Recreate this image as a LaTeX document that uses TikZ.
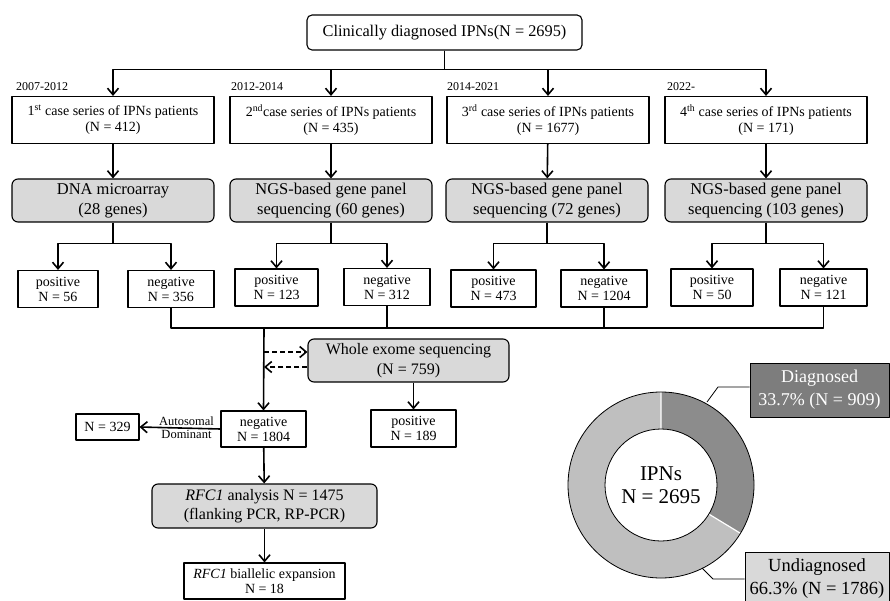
\documentclass[tikz,border=0pt]{standalone}
\usepackage{fontspec}
\setmainfont{Liberation Serif}
\usetikzlibrary{arrows.meta}
\definecolor{boxgray}{RGB}{217,217,217}
\definecolor{diaggray}{RGB}{140,140,140}
\definecolor{labgray}{RGB}{125,125,125}
\definecolor{undiaggray}{RGB}{191,191,191}
\newcommand{\fs}[2]{\fontsize{#1}{#2}\selectfont}

\begin{document}
\begin{tikzpicture}[line join=round,>={Straight Barb[length=6.5pt,width=11pt]},x=1pt,y=-1pt,
	box/.style={draw,line width=1.1pt,inner sep=0pt,align=center},
	serbox/.style={box,minimum width=202,minimum height=47,font=\fs{14}{16}},
	graybox/.style={box,fill=boxgray,rounded corners=6pt,font=\fs{16.5}{20}},
	resbox/.style={box,minimum height=37,font=\fs{14}{15}},
	yearlbl/.style={anchor=west,inner sep=0pt,font=\fs{12}{14}},
	conn/.style={line width=1.6pt}]
		\useasboundingbox (0,0) rectangle (890,601);
		\node[box,rounded corners=5pt,minimum width=275,minimum height=35,font=\fs{16.3}{19}] (top) at (444.5,32.5) {Clinically diagnosed IPNs(N = 2695)};
		\node[serbox] (s1) at (113,120) {1\textsuperscript{st} case series of IPNs patients\\(N = 412)};
		\node[serbox] (s2) at (331,120) {2\textsuperscript{nd}case series of IPNs patients\\(N = 435)};
		\node[serbox] (s3) at (548,120) {3\textsuperscript{rd} case series of IPNs patients\\(N = 1677)};
		\node[serbox] (s4) at (766,120) {4\textsuperscript{th} case series of IPNs patients\\(N = 171)};
		\node[yearlbl] (y1) at (16,87) {2007-2012};
		\node[yearlbl] (y2) at (231,87) {2012-2014};
		\node[yearlbl] (y3) at (447,87) {2014-2021};
		\node[yearlbl] (y4) at (667,87) {2022-};
		\node[graybox,minimum width=202,minimum height=43] (g1) at (113,200.5) {DNA microarray\\(28 genes)};
		\node[graybox,minimum width=202,minimum height=43] (g2) at (331,200.5) {NGS-based gene panel\\sequencing (60 genes)};
		\node[graybox,minimum width=202,minimum height=43] (g3) at (547,200.5) {NGS-based gene panel\\sequencing (72 genes)};
		\node[graybox,minimum width=202,minimum height=43] (g4) at (766,200.5) {NGS-based gene panel\\sequencing (103 genes)};
		\node[resbox,minimum width=80] (p1) at (58,289) {positive\\N = 56};
		\node[resbox,minimum width=86] (n1) at (171,289) {negative\\N = 356};
		\node[resbox,minimum width=83] (p2) at (276.5,287.5) {positive\\N = 123};
		\node[resbox,minimum width=86] (n2) at (387,287) {negative\\N = 312};
		\node[resbox,minimum width=85] (p3) at (493.5,288.5) {positive\\N = 473};
		\node[resbox,minimum width=86] (n3) at (604,288.5) {negative\\N = 1204};
		\node[resbox,minimum width=82] (p4) at (712,287.5) {positive\\N = 50};
		\node[resbox,minimum width=87] (n4) at (823.5,287.5) {negative\\N = 121};
		\node[graybox,minimum width=201,minimum height=43,font=\fs{16}{20}] (wes) at (408.5,360.5) {Whole exome sequencing\\(N = 759)};
		\node[resbox,minimum width=85] (wpos) at (413.5,428.5) {positive\\N = 189};
		\node[resbox,minimum width=85,minimum height=36] (neg) at (263.5,429) {negative\\N = 1804};
		\node[resbox,minimum width=63,minimum height=26] (ad) at (107.5,427) {N = 329};
		\node[graybox,minimum width=225,minimum height=44,font=\fs{16}{19}] (rfc) at (264.5,506) {\textit{RFC1} analysis N = 1475\\(flanking PCR, RP-PCR)};
		\node[resbox,minimum width=161,minimum height=36] (bial) at (264.5,581) {\textit{RFC1} biallelic expansion\\N = 18};
		\coordinate (bus) at (264,328);
		\coordinate (wesin) at ([yshift=8.5pt]wes.west);
		\coordinate (wesout) at ([yshift=-6.5pt]wes.west);
		\draw[conn,->] (top.south) -- ++(0,19) -| (s1.north);
		\draw[conn,->] (top.south) -- ++(0,19) -| (s2.north);
		\draw[conn,->] (top.south) -- ++(0,19) -| (s3.north);
		\draw[conn,->] (top.south) -- ++(0,19) -| (s4.north);
		\draw[conn,->] (s1) -- (g1);
		\draw[conn,->] (s2) -- (g2);
		\draw[conn,->] (s3) -- (g3);
		\draw[conn,->] (s4) -- (g4);
		\draw[conn,->] (g1.south) -- ++(0,21) -| (p1.north);
		\draw[conn,->] (g1.south) -- ++(0,21) -| (n1.north);
		\draw[conn,->] (g2.south) -- ++(0,21) -| (p2.north);
		\draw[conn,->] (g2.south) -- ++(0,21) -| (n2.north);
		\draw[conn,->] (g3.south) -- ++(0,21) -| (p3.north);
		\draw[conn,->] (g3.south) -- ++(0,21) -| (n3.north);
		\draw[conn,->] (g4.south) -- ++(0,21) -| (p4.north);
		\draw[conn,->] (g4.south) -- ++(0,21) -| (n4.north);
		\draw[conn] (n1.south) |- (bus) -| (n4.south);
		\draw[conn] (n2.south) -- (n2.south |- bus);
		\draw[conn] (n3.south) -- (n3.south |- bus);
		\draw[conn,->] (bus) -- (neg.north);
		\draw[conn,->,dash pattern=on 5pt off 3pt] (bus |- wesin) -- (wesin);
		\draw[conn,->,dash pattern=on 5pt off 3pt] (wesout) -- (bus |- wesout);
		\draw[conn,->] (wpos.north |- wes.south) -- (wpos.north);
		\draw[conn,->] (neg.west) -- (ad.east) node[pos=0.42,above,inner sep=1.5pt,font=\fs{12.5}{14}] (adup) {Autosomal} node[pos=0.42,below,inner sep=1.5pt,font=\fs{12.5}{14}] (adlow) {Dominant};
		\draw[conn,->] (neg) -- (rfc);
		\draw[conn,->] (rfc) -- (bial);
		\coordinate (ctr) at (661,485);
		\begin{scope}[shift={(ctr)},y=1pt]
		\fill[diaggray] (90:93) arc (90:-31.3:93) -- (-31.3:56) arc (-31.3:90:56) -- cycle;
		\fill[undiaggray] (-31.3:93) arc (-31.3:-270:93) -- (-270:56) arc (-270:-31.3:56) -- cycle;
		\draw[white,line width=1.2pt] (90:56) -- (90:93) (-31.3:56) -- (-31.3:93);
		\draw[line width=0.8pt] (0,0) circle (93) (0,0) circle (56);
		\end{scope}
		\node[align=center,font=\fs{21}{23}] (ipn) at (ctr) {IPNs\\N = 2695};
		\node[draw,line width=0.8pt,fill=labgray,text=white,align=center,minimum width=139,minimum height=54,inner sep=0pt,font=\fs{18}{23}] (dlab) at (819.5,390) {Diagnosed\\33.7\% (N = 909)};
		\node[draw,line width=0.8pt,fill=boxgray,align=center,minimum width=144,minimum height=54,inner sep=0pt,font=\fs{18.5}{23}] (ulab) at (817,579) {Undiagnosed\\66.3\% (N = 1786)};
		\coordinate (dtip) at (707,402);
		\coordinate (utip) at (702,568);
		\draw[line width=0.8pt] (dtip) -- (718,387) -- (dlab.west |- 0,387);
		\draw[line width=0.8pt] (utip) -- (713,579) -- (ulab.west);
\end{tikzpicture}
\end{document}
